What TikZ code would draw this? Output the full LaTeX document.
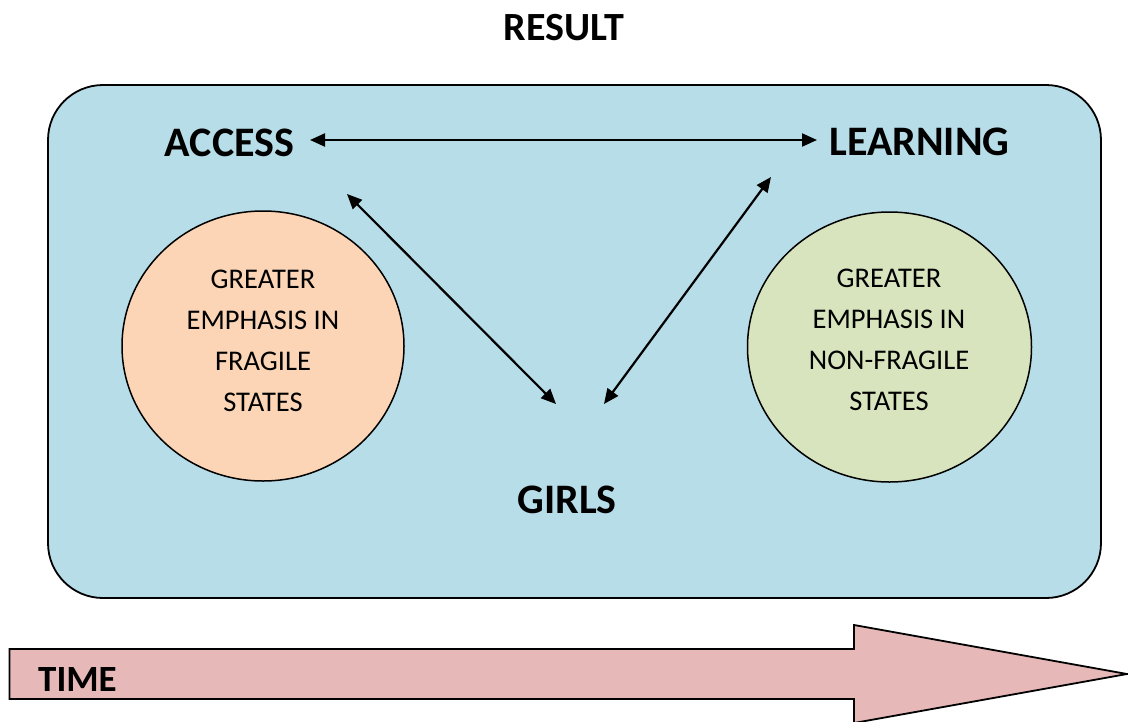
\documentclass[tikz,border=0pt]{standalone}
\usepackage{fontspec}
\setmainfont{Carlito}
\usetikzlibrary{arrows.meta}
\definecolor{boxblue}{HTML}{B7DDE8}
\definecolor{peach}{HTML}{FBD5B5}
\definecolor{sage}{HTML}{D7E4BD}
\definecolor{timepink}{HTML}{E6B8B7}
\tikzset{
  biglabel/.style={font=\bfseries\fontsize{42}{48}\selectfont, inner sep=0pt, anchor=base},
  circtext/.style={font=\fontsize{28.5}{41}\selectfont, align=center, inner sep=0pt},
  link/.style={line width=2.2pt, {Triangle[length=15pt,width=13pt]}-{Triangle[length=15pt,width=13pt]}},
}
\begin{document}
\begin{tikzpicture}[x=1pt,y=-1pt]
\useasboundingbox (0,0) rectangle (1128,721);
% main box
\path[fill=boxblue, draw=black, line width=1.8pt, rounded corners=55pt] (48,85) rectangle (1101,598);
% circles
\path[fill=peach, draw=black, line width=1.5pt] (263,346) ellipse [x radius=141, y radius=135];
\path[fill=sage, draw=black, line width=1.5pt] (889.5,347) ellipse [x radius=142, y radius=135];
% titles
\node[biglabel, font=\bfseries\fontsize{40}{46}\selectfont] (result) at (564,40) {RESULT};
\node[biglabel] (access) at (229.5,156) {ACCESS};
\node[biglabel] (learning) at (919.5,155) {LEARNING};
\node[biglabel] (girls) at (567,513) {GIRLS};
% circle texts
\node[circtext] (fragile) at (263,341) {GREATER\\EMPHASIS IN\\FRAGILE\\STATES};
\node[circtext] (nonfragile) at (889,340) {GREATER\\EMPHASIS IN\\NON-FRAGILE\\STATES};
% arrow end points
\coordinate (accR) at (310,140);
\coordinate (learnL) at (817,140);
\coordinate (accD) at (347,194);
\coordinate (girlsL) at (556,404);
\coordinate (learnD) at (771,177);
\coordinate (girlsR) at (604,404);
\draw[link] (accR) -- (learnL);
\draw[link] (accD) -- (girlsL);
\draw[link] (girlsR) -- (learnD);
% time arrow
\path[fill=timepink, draw=black, line width=1.8pt, line join=miter]
  (9.5,649) -- (854,649) -- (854,625) -- (1127,674) -- (854,723) -- (854,699) -- (9.5,699) -- cycle;
\node[font=\bfseries\fontsize{37}{42}\selectfont, inner sep=0pt, anchor=base west] (time) at (38,691) {TIME};
\end{tikzpicture}
\end{document}
